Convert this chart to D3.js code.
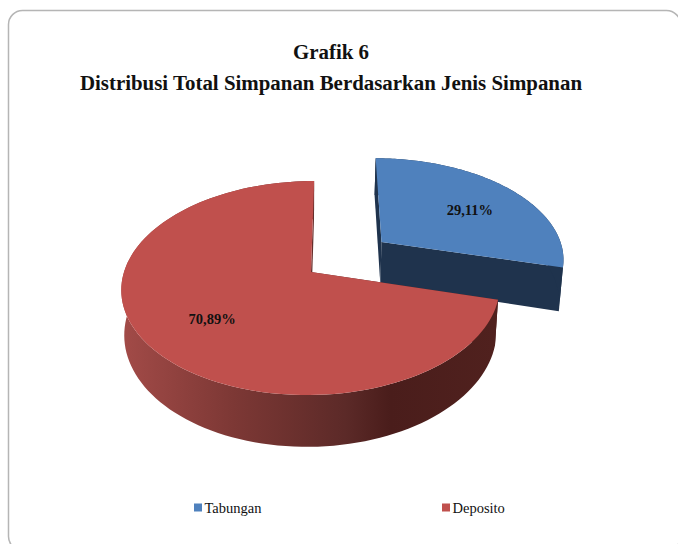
<!DOCTYPE html>
<html>
<head>
<meta charset="utf-8">
<script src="https://cdn.jsdelivr.net/npm/d3@7"></script>
<style>
  body { margin: 0; background: #fff; }
  text { font-family: "Liberation Serif", serif; fill: #111; }
</style>
</head>
<body>
<svg width="678" height="544"></svg>
<script>
const categories = ['Tabungan', 'Deposito']
const shares = [29.11, 70.89]
const shareLabels = ['29,11%', '70,89%']
const titleLines = ['Grafik 6', 'Distribusi Total Simpanan Berdasarkan Jenis Simpanan']

const svg = d3.select('svg')
const color = d3.scaleOrdinal(categories, ['#4f81bd', '#c0504d'])
const wallColor = d3.scaleOrdinal(categories, ['#1f334d', 'url(#redWall)'])

// pie lies on a tilted plane, so project ground coords by hand
const RX = 187, RY = 104.6, K = 0.15, SHRINK = 0.016, DEPTH = 44
const CX = 311, CY = 272, VX = 335, VZ = 307
const EXPLODE = [0.49, 0]
const LABEL_FRAC = [0.68, 0.62]

const project = function (gx, gv, z) {
  const s = 1 / (1 + K * gv)
  const x = VX + (CX + gx * RX - VX) * s
  return [VZ + (x - VZ) * (1 - SHRINK * z), CY + (-RY * gv + DEPTH * z) * s]
}

const pie = d3.pie().sort(null).value(d => d)
const arcs = pie(shares)
const line = d3.line()

const slicePoints = function (d, i, z) {
  const mid = (d.startAngle + d.endAngle) / 2
  const ox = EXPLODE[i] * Math.sin(mid), ov = EXPLODE[i] * Math.cos(mid)
  const angles = d3.range(0, 121).map(j => d.startAngle + (d.endAngle - d.startAngle) * j / 120)
  const rim = angles.map(a => project(ox + Math.sin(a), ov + Math.cos(a), z))
  return { apex: project(ox, ov, z), rim: rim, ox: ox, ov: ov, mid: mid }
}

// red side wall gets its lighter left, dark right shading
const grad = svg.append('defs').append('linearGradient')
  .attr('id', 'redWall').attr('gradientUnits', 'userSpaceOnUse')
  .attr('x1', 120).attr('x2', 495).attr('y1', 0).attr('y2', 0)
grad.selectAll('stop')
  .data([[0, '#a34b48'], [0.3, '#7d3835'], [0.6, '#5c2a28'], [0.72, '#4a1d1b'], [1, '#50211e']])
  .enter().append('stop')
  .attr('offset', d => d[0]).attr('stop-color', d => d[1])

svg.append('rect')
  .attr('x', 8.5).attr('y', 10.5).attr('width', 672).attr('height', 540).attr('rx', 14)
  .attr('fill', '#fff').attr('stroke', '#b5b5b5').attr('stroke-width', 1.5)

svg.selectAll('text.title')
  .data(titleLines)
  .enter().append('text')
  .attr('class', 'title')
  .attr('x', 331)
  .attr('y', (d, i) => 59 + i * 31)
  .attr('text-anchor', 'middle')
  .attr('font-size', 20.9)
  .attr('font-weight', 'bold')
  .text(d => d)

// blue first: the red top covers the foot of its wall
arcs.forEach(function (d, i) {
  const name = categories[i]
  const top = slicePoints(d, i, 0)
  const bottom = slicePoints(d, i, 1)
  const g = svg.append('g').attr('class', 'slice')

  // walls, back to front
  g.append('path')
    .attr('d', line([top.apex, top.rim[0], bottom.rim[0], bottom.apex]) + 'Z')
    .attr('fill', wallColor(name))
  g.append('path')
    .attr('d', line([top.apex, top.rim[120], bottom.rim[120], bottom.apex]) + 'Z')
    .attr('fill', wallColor(name))
  g.append('path')
    .attr('d', line(top.rim.concat(bottom.rim.slice().reverse())) + 'Z')
    .attr('fill', wallColor(name))
  g.append('path')
    .attr('d', line([top.apex].concat(top.rim)) + 'Z')
    .attr('fill', color(name))

  const f = LABEL_FRAC[i]
  const pos = project(top.ox + f * Math.sin(top.mid), top.ov + f * Math.cos(top.mid), 0)
  g.append('text')
    .attr('x', pos[0]).attr('y', pos[1] + 10)
    .attr('text-anchor', 'middle')
    .attr('font-size', 14.5)
    .attr('font-weight', 'bold')
    .text(shareLabels[i])
})

const legendX = d3.scalePoint(categories, [194, 442])
const legend = svg.selectAll('g.legend')
  .data(categories)
  .enter().append('g')
  .attr('class', 'legend')
  .attr('transform', d => `translate(${legendX(d)},503.5)`)
legend.append('rect').attr('width', 8).attr('height', 8).attr('fill', d => color(d))
legend.append('text').attr('x', 10.5).attr('y', 9.5).attr('font-size', 14.5).text(d => d)
</script>
</body>
</html>
